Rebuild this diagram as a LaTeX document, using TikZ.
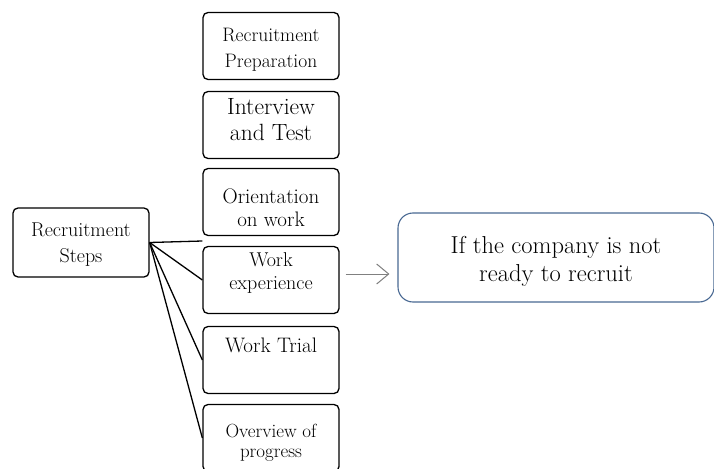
\documentclass[tikz,border=0pt]{standalone}
\usepackage{tikz}
\usetikzlibrary{positioning,calc,arrows.meta}
\definecolor{boxblue}{RGB}{72,104,146}
\definecolor{arrowgray}{RGB}{128,128,128}

\begin{document}
\begin{tikzpicture}[x=1pt,y=-1pt,
  stepbox/.style={rectangle, draw, line width=1.3pt, rounded corners=5pt, minimum width=136pt, minimum height=67pt},
  steptext/.style={align=center, inner sep=0pt}]
\useasboundingbox (0,0) rectangle (714,468);

% Steps
\node[stepbox] (prep) at (271,46) {};
\node[steptext, font=\fontsize{19.5}{26}\selectfont] (preptxt) at (271,50) {Recruitment\\Preparation};
\node[stepbox] (interview) at (271,125) {};
\node[steptext, font=\fontsize{23.5}{26}\selectfont] (interviewtxt) at (271,120) {Interview\\and Test};
\node[stepbox] (orient) at (271,202) {};
\node[steptext, font=\fontsize{21}{23}\selectfont] (orienttxt) at (271,208) {Orientation\\on work};
\node[stepbox] (work) at (271,280) {};
\node[steptext, font=\fontsize{20}{23}\selectfont] (worktxt) at (271,273) {Work\\experience};
\node[stepbox] (trial) at (271,360) {};
\node[steptext, font=\fontsize{21}{22}\selectfont] (trialtxt) at (271,345) {Work Trial};
\node[stepbox] (overview) at (271,438) {};
\node[steptext, font=\fontsize{19}{20}\selectfont] (overviewtxt) at (271,443) {Overview of\\progress};

% Start
\node[stepbox, minimum height=69pt] (steps) at (81,242.5) {};
\node[steptext, font=\fontsize{20}{26}\selectfont] (stepstxt) at (81,245) {Recruitment\\Steps};
\coordinate (gap) at ($(orient.south west)!0.5!(work.north west)$);

\draw[line width=1.3pt] (steps.east) -- (gap);
\draw[line width=1.3pt] (steps.east) -- (work.west);
\draw[line width=1.3pt] (steps.east) -- (trial.west);
\draw[line width=1.3pt] (steps.east) -- (overview.west);

% Not ready
\node[rectangle, draw=boxblue, line width=1.1pt, rounded corners=15pt, minimum width=316pt, minimum height=89pt] (ifnot) at (556,257.5) {};
\node[steptext, font=\fontsize{24.5}{28}\selectfont] (ifnottxt) at (556,261) {If the company is not\\ready to recruit};

\draw[arrowgray, line width=1pt, -{Straight Barb[length=12pt,width=20pt]}] ([xshift=6pt,yshift=6pt]work.east) -- ([xshift=-8pt,yshift=6pt]work.east -| ifnot.west);
\end{tikzpicture}
\end{document}
